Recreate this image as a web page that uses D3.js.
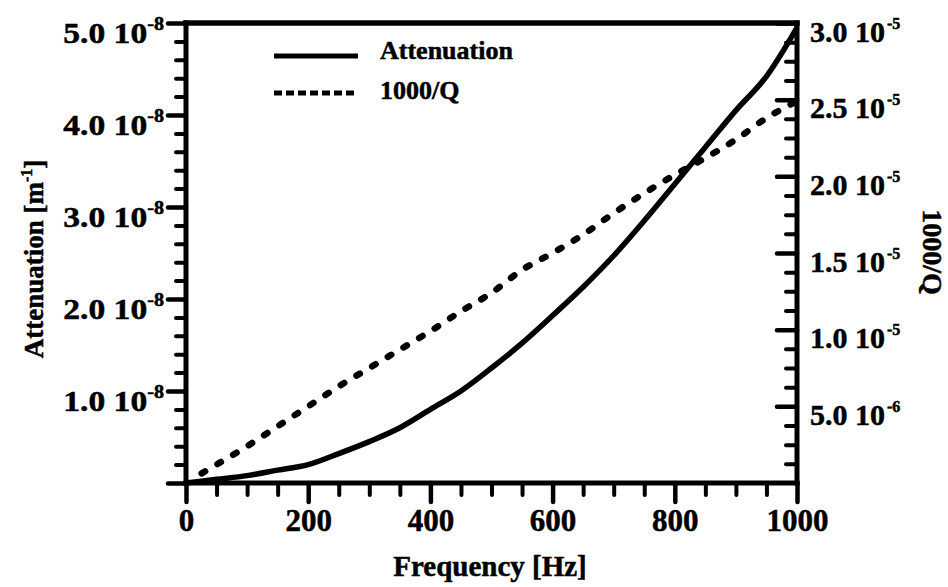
<!DOCTYPE html>
<html>
<head>
<meta charset="utf-8">
<script src="https://cdn.jsdelivr.net/npm/d3@7"></script>
<style>
  html, body { margin: 0; padding: 0; background: #fff; }
  svg { display: block; }
  text { font-family: "Liberation Serif", "Times New Roman", serif; font-weight: bold; fill: #000; stroke: #000; stroke-width: 0.5px; }
</style>
</head>
<body>
<svg id="chart" width="948" height="587"></svg>
<script>
// ---------------- data ----------------
const frequency = [20, 50, 100, 150, 200, 250, 300, 350, 400, 450, 500, 550, 600, 650, 700, 750, 800, 850, 900, 950, 1000];
const attenuationFreq = [0, 50, 100, 150, 200, 250, 300, 350, 400, 450, 500, 550, 600, 650, 700, 750, 800, 850, 900, 950, 1000];
// Attenuation [m^-1]
const attenuation = [0, 0.04e-8, 0.08e-8, 0.14e-8, 0.20e-8, 0.32e-8, 0.45e-8, 0.60e-8, 0.80e-8, 1.00e-8, 1.25e-8,
  1.52e-8, 1.82e-8, 2.13e-8, 2.47e-8, 2.85e-8, 3.25e-8, 3.65e-8, 4.05e-8, 4.42e-8, 4.95e-8];
// 1000/Q
const invQ = [0.05e-5, 0.12e-5, 0.24e-5, 0.37e-5, 0.50e-5, 0.63e-5, 0.75e-5, 0.87e-5, 0.99e-5, 1.12e-5, 1.24e-5,
  1.39e-5, 1.50e-5, 1.62e-5, 1.76e-5, 1.89e-5, 2.01e-5, 2.12e-5, 2.24e-5, 2.38e-5, 2.49e-5];

const xTicks = [0, 200, 400, 600, 800, 1000];
const xMinorTicks = d3.range(0, 1001, 50).filter(v => v % 200 !== 0);
const leftTicks = [0, 1e-8, 2e-8, 3e-8, 4e-8, 5e-8];
const leftTickLabels = ["", "1.0 10", "2.0 10", "3.0 10", "4.0 10", "5.0 10"];
const leftTickExp = ["", "-8", "-8", "-8", "-8", "-8"];
const leftMinorTicks = d3.range(1, 25).map(i => i * 0.2e-8).filter((v, i) => (i + 1) % 5 !== 0);
const rightTicks = [0.5e-5, 1.0e-5, 1.5e-5, 2.0e-5, 2.5e-5, 3.0e-5];
const rightTickLabels = ["5.0 10", "1.0 10", "1.5 10", "2.0 10", "2.5 10", "3.0 10"];
const rightTickExp = ["-6", "-5", "-5", "-5", "-5", "-5"];
const rightMinorTicks = d3.range(1, 24).map(i => i * 0.125e-5).filter((v, i) => (i + 1) % 4 !== 0);

const legendLabels = ["Attenuation", "1000/Q"];

// ---------------- layout ----------------
const svg = d3.select("#chart");
const x = d3.scaleLinear().domain([0, 1000]).range([186, 797]);
const yL = d3.scaleLinear().domain([0, 5e-8]).range([483, 23]);
const yR = d3.scaleLinear().domain([0, 3e-5]).range([483, 23]);

function styleAxis(g, width) {
  g.select(".domain").remove();
  g.selectAll(".tick line").attr("stroke", "#000").attr("stroke-width", width).attr("stroke-linecap", "round");
}

// minor ticks
svg.append("g").attr("transform", "translate(0,483)")
  .call(d3.axisBottom(x).tickValues(xMinorTicks).tickSize(12).tickFormat(""))
  .call(g => styleAxis(g, 4));
svg.append("g").attr("transform", "translate(186,0)")
  .call(d3.axisLeft(yL).tickValues(leftMinorTicks).tickSize(10).tickFormat(""))
  .call(g => styleAxis(g, 4));
svg.append("g").attr("transform", "translate(797,0)")
  .call(d3.axisRight(yR).tickValues(rightMinorTicks).tickSize(-11).tickFormat(""))
  .call(g => styleAxis(g, 4));

// major bottom
const gx = svg.append("g").attr("transform", "translate(0,483)")
  .call(d3.axisBottom(x).tickValues(xTicks).tickSize(19).tickPadding(7).tickFormat(d3.format("d")))
  .call(g => styleAxis(g, 4.5));
gx.selectAll(".tick text").attr("font-size", 31).attr("font-family", null);

// major left
const sx = 1.12;
const gl = svg.append("g").attr("transform", "translate(186,0)")
  .call(d3.axisLeft(yL).tickValues(leftTicks).tickSize(18).tickPadding(4).tickFormat((d, i) => leftTickLabels[i]))
  .call(g => styleAxis(g, 4.5));
gl.selectAll(".tick text").attr("font-family", null).attr("font-size", 30).attr("dy", 19)
  .attr("x", -22 / sx).attr("transform", `scale(${sx},1)`)
  .each(function(d, i) {
    const t = d3.select(this);
    const lbl = leftTickLabels[i];
    t.text(null);
    if (!lbl) return;
    t.append("tspan").text(lbl);
    t.append("tspan").attr("font-size", 18).attr("dy", -13).text(leftTickExp[i]);
  });

// major right (ticks point inward)
const gr = svg.append("g").attr("transform", "translate(797,0)")
  .call(d3.axisRight(yR).tickValues(rightTicks).tickSize(-20).tickPadding(13).tickFormat((d, i) => rightTickLabels[i]))
  .call(g => styleAxis(g, 4.5));
gr.selectAll(".tick text").attr("font-family", null).attr("font-size", 30).attr("dy", 18)
  .each(function(d, i) {
    const t = d3.select(this);
    t.text(null);
    t.append("tspan").text(rightTickLabels[i]);
    t.append("tspan").attr("font-size", 16).attr("dy", -13).attr("dx", 2).text(rightTickExp[i]);
  });

// frame
const frame = svg.append("g").attr("stroke", "#000").attr("fill", "none").attr("stroke-linecap", "square");
frame.append("line").attr("x1", x(0)).attr("x2", x(0)).attr("y1", yL(5e-8)).attr("y2", yL(0)).attr("stroke-width", 5);
frame.append("line").attr("x1", x(0)).attr("x2", x(1000)).attr("y1", yL(0)).attr("y2", yL(0)).attr("stroke-width", 5);
frame.append("line").attr("x1", x(1000)).attr("x2", x(1000)).attr("y1", yL(5e-8)).attr("y2", yL(0)).attr("stroke-width", 5);
frame.append("line").attr("x1", x(0)).attr("x2", x(1000)).attr("y1", yL(5e-8)).attr("y2", yL(5e-8)).attr("stroke-width", 5.5);

// curves
const lineAtt = d3.line().x((d, i) => x(attenuationFreq[i])).y(d => yL(d)).curve(d3.curveMonotoneX);
const lineQ = d3.line().x((d, i) => x(frequency[i])).y(d => yR(d)).curve(d3.curveMonotoneX);

svg.append("path").datum(attenuation).attr("d", lineAtt)
  .attr("fill", "none").attr("stroke", "#000").attr("stroke-width", 5.5).attr("stroke-linejoin", "round");
svg.append("path").datum(invQ).attr("d", lineQ)
  .attr("fill", "none").attr("stroke", "#000").attr("stroke-width", 6.5)
  .attr("stroke-linecap", "round").attr("stroke-dasharray", "4,14.3").attr("stroke-dashoffset", -4);

// legend
const leg = svg.append("g");
leg.append("line").attr("x1", 274).attr("x2", 358).attr("y1", 56).attr("y2", 56)
  .attr("stroke", "#000").attr("stroke-width", 5);
leg.append("line").attr("x1", 274).attr("x2", 358).attr("y1", 93).attr("y2", 93)
  .attr("stroke", "#000").attr("stroke-width", 5).attr("stroke-dasharray", "8,4");
leg.append("text").attr("x", 380).attr("y", 59).attr("font-size", 26).text(legendLabels[0]);
leg.append("text").attr("x", 380).attr("y", 99).attr("font-size", 26).text(legendLabels[1]);

// axis titles
svg.append("text").attr("text-anchor", "middle").attr("x", 490).attr("y", 576)
  .attr("font-size", 29).text("Frequency [Hz]");

const lt = svg.append("text").attr("text-anchor", "middle")
  .attr("transform", "translate(43,259) rotate(-90)").attr("font-size", 27);
lt.append("tspan").text("Attenuation [m");
lt.append("tspan").attr("font-size", 16).attr("dy", -11).text("-1");
lt.append("tspan").attr("dy", 11).text("]");

svg.append("text").attr("text-anchor", "middle")
  .attr("transform", "translate(923,252) rotate(90)").attr("font-size", 28).text("1000/Q");
</script>
</body>
</html>
